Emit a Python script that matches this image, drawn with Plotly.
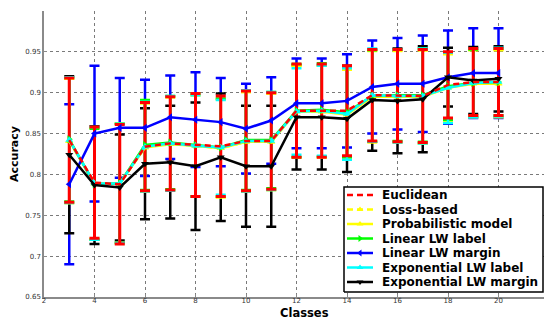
import plotly.graph_objects as go

classes = list(range(3, 21))

euclidean = [0.842, 0.790, 0.788, 0.834, 0.838, 0.836, 0.8345, 0.841, 0.841, 0.878, 0.878, 0.878, 0.897, 0.8965, 0.896, 0.9095, 0.913, 0.913]
euclidean_err = [0.076, 0.068, 0.073, 0.054, 0.057, 0.063, 0.0615, 0.061, 0.059, 0.057, 0.057, 0.055, 0.056, 0.0565, 0.057, 0.0405, 0.041, 0.041]

loss_based = [0.841, 0.789, 0.789, 0.833, 0.838, 0.835, 0.832, 0.840, 0.840, 0.877, 0.877, 0.874, 0.896, 0.896, 0.895, 0.907, 0.912, 0.912]
loss_based_err = [0.076, 0.068, 0.073, 0.054, 0.057, 0.062, 0.060, 0.061, 0.059, 0.056, 0.056, 0.055, 0.056, 0.056, 0.057, 0.041, 0.041, 0.041]

probabilistic = [0.841, 0.789, 0.789, 0.833, 0.837, 0.835, 0.832, 0.840, 0.840, 0.877, 0.877, 0.873, 0.895, 0.895, 0.895, 0.906, 0.911, 0.911]
probabilistic_err = [0.076, 0.068, 0.073, 0.054, 0.057, 0.062, 0.060, 0.061, 0.059, 0.056, 0.056, 0.055, 0.056, 0.056, 0.057, 0.041, 0.041, 0.041]

linear_label = [0.843, 0.788, 0.789, 0.836, 0.839, 0.836, 0.833, 0.842, 0.842, 0.878, 0.879, 0.876, 0.896, 0.897, 0.897, 0.908, 0.912, 0.913]
linear_label_err = [0.076, 0.068, 0.073, 0.055, 0.057, 0.063, 0.060, 0.061, 0.059, 0.057, 0.057, 0.055, 0.056, 0.056, 0.057, 0.041, 0.041, 0.041]

linear_margin = [0.788, 0.850, 0.857, 0.857, 0.870, 0.867, 0.864, 0.856, 0.866, 0.887, 0.887, 0.890, 0.907, 0.911, 0.911, 0.919, 0.924, 0.924]
linear_margin_err = [0.098, 0.083, 0.061, 0.059, 0.051, 0.058, 0.054, 0.055, 0.053, 0.055, 0.055, 0.057, 0.057, 0.056, 0.059, 0.057, 0.055, 0.055]

exp_label = [0.842, 0.789, 0.789, 0.834, 0.838, 0.835, 0.833, 0.841, 0.841, 0.877, 0.878, 0.874, 0.897, 0.896, 0.896, 0.906, 0.912, 0.913]
exp_label_err = [0.077, 0.069, 0.073, 0.055, 0.058, 0.062, 0.058, 0.062, 0.060, 0.053, 0.055, 0.056, 0.057, 0.057, 0.058, 0.043, 0.042, 0.042]

exp_margin = [0.824, 0.787, 0.784, 0.813, 0.815, 0.810, 0.821, 0.810, 0.810, 0.870, 0.870, 0.868, 0.891, 0.890, 0.892, 0.919, 0.915, 0.917]
exp_margin_err = [0.096, 0.072, 0.065, 0.068, 0.069, 0.078, 0.078, 0.074, 0.074, 0.064, 0.064, 0.065, 0.062, 0.064, 0.065, 0.036, 0.041, 0.040]

x_ticks = [2, 4, 6, 8, 10, 12, 14, 16, 18, 20, 22]
x_tick_labels = ["2", "4", "6", "8", "10", "12", "14", "16", "18", "20", "22"]
y_ticks = [0.65, 0.7, 0.75, 0.8, 0.85, 0.9, 0.95, 1.0]
y_tick_labels = ["0.65", "0.7", "0.75", "0.8", "0.85", "0.9", "0.95", "1"]

series_names = ["Euclidean", "Loss-based", "Probabilistic model", "Linear LW label",
                "Linear LW margin", "Exponential LW label", "Exponential LW margin"]

# style per series: color, dash, marker symbol
styles = {
    "Euclidean": ("#ff0000", "6px,4px", None),
    "Loss-based": ("#ffff00", "6px,4px", "triangle-up"),
    "Probabilistic model": ("#ffff00", "solid", "triangle-up"),
    "Linear LW label": ("#00ff00", "solid", "triangle-right"),
    "Linear LW margin": ("#0000ff", "solid", "triangle-left"),
    "Exponential LW label": ("#00ffff", "solid", "triangle-up"),
    "Exponential LW margin": ("#000000", "solid", "triangle-down"),
}
values = {
    "Euclidean": (euclidean, euclidean_err),
    "Loss-based": (loss_based, loss_based_err),
    "Probabilistic model": (probabilistic, probabilistic_err),
    "Linear LW label": (linear_label, linear_label_err),
    "Linear LW margin": (linear_margin, linear_margin_err),
    "Exponential LW label": (exp_label, exp_label_err),
    "Exponential LW margin": (exp_margin, exp_margin_err),
}

fig = go.Figure()

# error bars first (red drawn last, on top of the other bars)
bar_order = ["Linear LW margin", "Exponential LW margin", "Probabilistic model", "Loss-based",
             "Linear LW label", "Exponential LW label", "Euclidean"]
for nm in bar_order:
    color, dash, sym = styles[nm]
    vals, errs = values[nm]
    fig.add_trace(go.Scatter(
        x=classes, y=vals, mode="markers", showlegend=False, hoverinfo="skip",
        marker=dict(size=1, color="rgba(0,0,0,0)"),
        error_y=dict(type="data", array=errs, visible=True, color=color,
                     thickness=3 if nm == "Euclidean" else 2.5, width=5),
    ))

# lines on top
line_order = ["Probabilistic model", "Loss-based", "Linear LW label", "Exponential LW label",
              "Linear LW margin", "Exponential LW margin", "Euclidean"]
for nm in line_order:
    color, dash, sym = styles[nm]
    vals, errs = values[nm]
    fig.add_trace(go.Scatter(
        x=classes, y=vals, mode="lines" if sym is None else "lines+markers", name=nm,
        showlegend=False,
        line=dict(color=color, width=2.5, dash=dash),
        marker=dict(symbol=sym or "circle", size=7, color=color),
    ))

# ---- custom legend drawn in a pixel-unit overlay axis (x2/y2) ----
PLOT_W, PLOT_H = 505, 286
box_l, box_r, box_b, box_t = 300, 499, 5, 110
row0, row_step = 102, 14.5
fig.add_trace(go.Scatter(
    x=[box_l, box_r, box_r, box_l, box_l], y=[box_b, box_b, box_t, box_t, box_b],
    xaxis="x2", yaxis="y2", mode="lines", fill="toself", fillcolor="white",
    line=dict(color="black", width=1.5), showlegend=False, hoverinfo="skip",
))
annotations = []
for i, nm in enumerate(series_names):
    color, dash, sym = styles[nm]
    yy = row0 - row_step * i
    fig.add_trace(go.Scatter(
        x=[303, 329], y=[yy, yy], xaxis="x2", yaxis="y2", mode="lines",
        line=dict(color=color, width=2.5, dash=dash), showlegend=False, hoverinfo="skip",
    ))
    if sym is not None:
        fig.add_trace(go.Scatter(
            x=[316], y=[yy], xaxis="x2", yaxis="y2", mode="markers",
            marker=dict(symbol=sym, size=6, color=color), showlegend=False, hoverinfo="skip",
        ))
    annotations.append(dict(
        text="<b>%s</b>" % nm, xref="x2", yref="y2", x=336, y=yy,
        xanchor="left", yanchor="middle", showarrow=False,
        font=dict(family="DejaVu Sans", size=12, color="black"),
    ))

annotations += [
    dict(text="<b>Classes</b>", xref="paper", yref="paper", x=0.515, y=0, yshift=-16,
         xanchor="center", yanchor="middle", showarrow=False, borderpad=0,
         font=dict(family="DejaVu Sans", size=11.5, color="black")),
    dict(text="<b>Accuracy</b>", xref="paper", yref="paper", x=0, xshift=-30, y=0.5,
         textangle=-90, xanchor="center", yanchor="middle", showarrow=False,
         font=dict(family="DejaVu Sans", size=11, color="black")),
]

axis_common = dict(showgrid=True, gridcolor="#7a7a7a", griddash="dot", gridwidth=1,
                   showline=True, linecolor="#8a8a8a", linewidth=1.5, zeroline=False,
                   ticks="inside", ticklen=3, tickcolor="#8a8a8a",
                   tickfont=dict(family="DejaVu Sans", size=7, color="#333333"))

fig.update_layout(
    width=544, height=312,
    margin=dict(l=36, r=3, t=3, b=23),
    paper_bgcolor="white", plot_bgcolor="white",
    xaxis=dict(range=[2, 22], tickvals=x_ticks, ticktext=x_tick_labels,
               ticklabelstandoff=-4, **axis_common),
    yaxis=dict(range=[0.65, 1.0], tickvals=y_ticks, ticktext=y_tick_labels, **axis_common),
    xaxis2=dict(overlaying="x", range=[0, PLOT_W], visible=False, fixedrange=True),
    yaxis2=dict(overlaying="y", range=[0, PLOT_H], visible=False, fixedrange=True),
    showlegend=False,
    annotations=annotations,
)

fig.write_html("out.html")
